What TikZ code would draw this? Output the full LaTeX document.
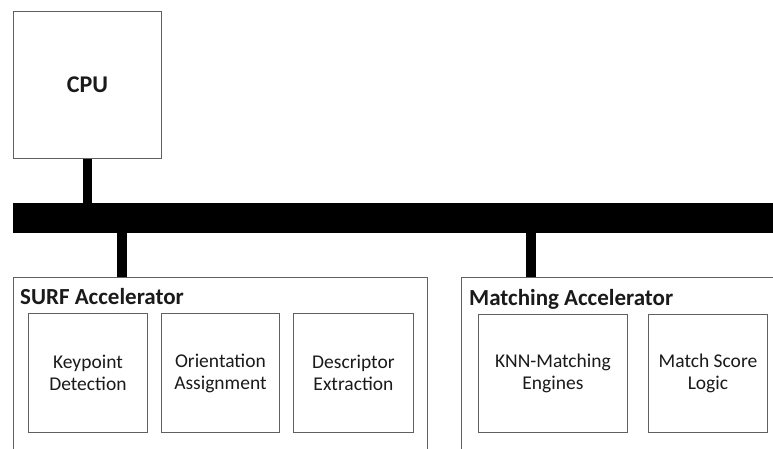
\documentclass[tikz,border=0pt]{standalone}
\usepackage{fontspec}
\setmainfont{Carlito}
\definecolor{boxline}{HTML}{606060}
\definecolor{txt}{HTML}{1A1A1A}
\begin{document}
\begin{tikzpicture}[x=1pt,y=-1pt,
  box/.style={draw=boxline,line width=0.9pt,fill=white,inner sep=0pt,anchor=north west},
  unit/.style={box,align=center,text=txt,font=\fontsize{19.5}{22}\selectfont},
  title/.style={anchor=base west,inner sep=0pt,text=txt,font=\fontsize{23}{26}\selectfont\bfseries},
  stub/.style={line width=9.5pt,draw=black}]
\useasboundingbox (0,0) rectangle (773,449);
\clip (0,0) rectangle (773,449);
\node[box,minimum width=148pt,minimum height=147pt,font=\fontsize{24}{28}\selectfont\bfseries,text=txt] (cpu) at (13,11) {CPU};
\node[fill=black,inner sep=0pt,anchor=north west,minimum width=790pt,minimum height=30pt] (bus) at (13,203) {};
\node[box,minimum width=414pt,minimum height=200pt] (surf) at (13,277) {};
\node[title] (surft) at (20,304) {SURF Accelerator};
\node[unit,minimum width=119pt,minimum height=119pt] (kp) at (28,313) {Keypoint\\Detection};
\node[unit,minimum width=118pt,minimum height=119pt] (oa) at (161,313) {Orientation\\Assignment};
\node[unit,minimum width=120pt,minimum height=119pt] (de) at (293,313) {Descriptor\\Extraction};
\node[box,minimum width=400pt,minimum height=200pt] (match) at (461,277) {};
\node[title] (matcht) at (469,305) {Matching Accelerator};
\node[unit,minimum width=149pt,minimum height=118pt] (knn) at (478,314) {KNN-Matching\\Engines};
\node[unit,minimum width=119pt,minimum height=118pt] (ms) at (648,314) {Match Score\\Logic};
\draw[stub] (cpu.south) -- (cpu.south |- bus.north);
\draw[stub] ([xshift=109pt]surf.north west) -- ([xshift=109pt]surf.north west |- bus.south);
\draw[stub] ([xshift=70pt]match.north west) -- ([xshift=70pt]match.north west |- bus.south);
\end{tikzpicture}
\end{document}
